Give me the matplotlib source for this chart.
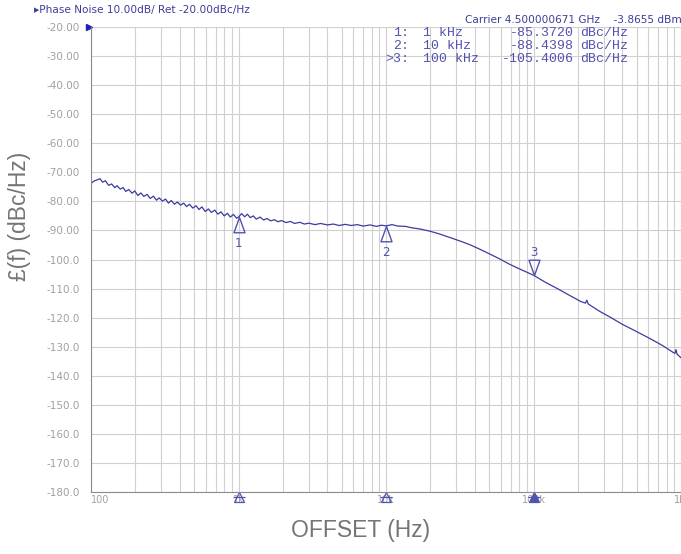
import numpy as np
import matplotlib.pyplot as plt
from matplotlib.transforms import blended_transform_factory

plt.rcParams["axes.unicode_minus"] = False

# trace (offset Hz, dBc/Hz)
freq = [100, 105, 110, 115, 120, 125, 132, 138, 145, 150, 158, 165, 172, 180, 190, 198,
        208, 218, 228, 240, 252, 265, 278, 290, 305, 320, 335, 350, 368, 385, 405, 425,
        445, 465, 490, 515, 540, 565, 595, 625, 655, 690, 725, 760, 800, 840, 880, 925,
        970, 1000, 1050, 1100, 1150, 1200, 1260, 1320, 1400, 1480, 1560, 1650, 1750, 1850,
        1960, 2100, 2250, 2400, 2600, 2800, 3000, 3300, 3600, 4000, 4400, 4800, 5300, 5800,
        6400, 7000, 7800, 8600, 9300, 10000, 11000, 12000, 13500, 15000, 17000, 20000,
        23000, 27000, 32000, 37000, 43000, 50000, 59000, 68000, 80000, 100000, 120000,
        145000, 175000, 210000, 225000, 230000, 235000, 280000, 330000, 400000, 500000,
        616000, 750000, 880000, 910000, 925000, 940000, 1000000]
noise = [-73.8, -73.0, -72.6, -72.2, -73.4, -72.9, -74.5, -74.0, -75.3, -74.6, -75.8, -75.2,
         -76.6, -75.9, -77.2, -76.4, -78.0, -77.1, -78.3, -77.6, -79.0, -78.2, -79.6, -78.8,
         -79.9, -79.2, -80.6, -79.7, -81.0, -80.2, -81.3, -80.6, -81.8, -81.0, -82.3, -81.5,
         -82.8, -81.9, -83.5, -82.6, -83.8, -83.0, -84.4, -83.6, -85.0, -84.1, -85.4, -84.5,
         -85.8, -85.4, -84.2, -85.3, -84.4, -85.6, -85.0, -86.1, -85.4, -86.4, -85.9, -86.7,
         -86.3, -87.0, -86.6, -87.3, -86.9, -87.6, -87.2, -87.8, -87.5, -88.0, -87.6, -88.1,
         -87.8, -88.3, -87.9, -88.3, -88.0, -88.5, -88.1, -88.6, -88.2, -88.44, -88.0, -88.5,
         -88.6, -89.1, -89.5, -90.3, -91.2, -92.4, -93.7, -94.9, -96.4, -98.0, -99.8, -101.5,
         -103.2, -105.4, -107.8, -110.0, -112.3, -114.5, -115.0, -114.0, -115.3, -117.8,
         -119.8, -122.3, -124.8, -127.2, -129.6, -131.9, -132.3, -131.0, -132.6, -133.8]

mk_freq = [1000, 10000, 100000]
mk_val = [-85.3720, -88.4398, -105.4006]
mk_name = ["1", "2", "3"]
mk_label = ["1:", "2:", ">3:"]
mk_text = ["1 kHz", "10 kHz", "100 kHz"]

yticks = list(range(-20, -181, -10))
ytick_labels = ["%.2f" % v if v > -100 else "%.1f" % v for v in yticks]
xticks = [100, 1e3, 1e4, 1e5, 1e6]
xtick_labels = ["100", "1k", "10k", "100k", "1M"]

blue = "#3c3c9c"
mblue = "#5252b0"
gray = "#a0a0a0"

fig = plt.figure(figsize=(6.81, 5.54), dpi=100)
ax = fig.add_axes([91 / 681, 1 - 492 / 554, 590 / 681, 465 / 554])

ax.semilogx(freq, noise, color=blue, lw=0.9)
ax.set_xlim(100, 1e6)
ax.set_ylim(-180, -20)

ax.set_yticks(yticks)
ax.set_yticklabels(ytick_labels, fontsize=7.5, color=gray)
ax.set_xticks(xticks)
ax.set_xticklabels(xtick_labels, fontsize=7, color=gray)
ax.xaxis.get_ticklabels()[0].set_horizontalalignment("left")
ax.tick_params(axis="both", which="both", length=0)
ax.tick_params(axis="x", pad=2)
ax.tick_params(axis="y", pad=8)
ax.grid(True, which="both", color="#d0d0d0", lw=0.8)
for s in ["top", "right"]:
    ax.spines[s].set_visible(False)
for s in ["left", "bottom"]:
    ax.spines[s].set_color("#8c8c8c")

# markers: apex sits on the trace
up = [(0, 0), (-0.36, -1), (0.36, -1), (0, 0)]
down = [(0, 0), (-0.36, 1), (0.36, 1), (0, 0)]
for f, v, n in zip(mk_freq, mk_val, mk_name):
    if n == "3":
        ax.plot(f, v, marker=down, ms=22, mfc="none", mec=mblue, mew=1, ls="none")
        ax.annotate(n, (f, v), xytext=(0, 16), textcoords="offset points",
                    ha="center", va="center", fontsize=8.5, color=mblue)
    else:
        ax.plot(f, v, marker=up, ms=22, mfc="none", mec=mblue, mew=1, ls="none")
        ax.annotate(n, (f, v), xytext=(0, -19), textcoords="offset points",
                    ha="center", va="center", fontsize=8.5, color=mblue)

# little marker flags under the x axis
tr = blended_transform_factory(ax.transData, ax.transAxes)
for f, n in zip(mk_freq, mk_name):
    ax.plot(f, -0.011, marker="^", ms=7, mfc=mblue if n == "3" else "none",
            mec=mblue, mew=0.9, transform=tr, clip_on=False, ls="none")
    ax.plot(f, -0.011, marker="_", ms=9, mec=mblue, mew=0.9, transform=tr,
            clip_on=False, ls="none")

# reference level flag
tr_y = blended_transform_factory(ax.transAxes, ax.transData)
ax.plot(-0.004, -20, marker=">", ms=5, color="#2020c0", transform=tr_y, clip_on=False)

fig.text(34 / 681, 1 - 10 / 554, "\u25b8Phase Noise 10.00dB/ Ret -20.00dBc/Hz",
         fontsize=7.6, color=blue, va="center")
fig.text(465 / 681, 1 - 20 / 554, "Carrier 4.500000671 GHz    -3.8655 dBm",
         fontsize=7.6, color=blue, va="center")

rows_y = [33, 46, 59]
for i in range(3):
    yy = 1 - rows_y[i] / 554
    fig.text(409 / 681, yy, mk_label[i], family="Liberation Mono", fontsize=9.5,
             color=mblue, ha="right", va="center")
    fig.text(423 / 681, yy, mk_text[i], family="Liberation Mono", fontsize=9.5,
             color=mblue, va="center")
    fig.text(574 / 681, yy, "%.4f" % mk_val[i], family="Liberation Mono", fontsize=9.5,
             color=mblue, ha="right", va="center")
    fig.text(580 / 681, yy, "dBc/Hz", family="Liberation Mono", fontsize=9.5,
             color=mblue, va="center")

fig.text(20 / 681, 1 - 216 / 554, "\u00a3(f) (dBc/Hz)", family="Liberation Sans",
         fontsize=16.5, color="#757575", rotation=90, ha="center", va="center")
fig.text(361 / 681, 1 - 530 / 554, "OFFSET (Hz)", family="Liberation Sans",
         fontsize=16.5, color="#757575", ha="center", va="center")

fig.savefig("out.png", dpi=100)
